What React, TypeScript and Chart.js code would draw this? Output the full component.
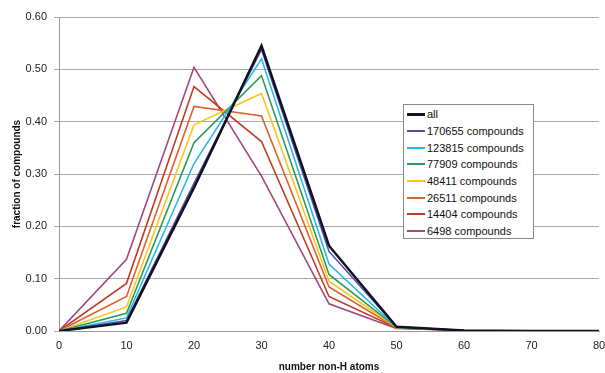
import React, { useEffect, useRef } from "react";
import { Chart, registerables } from "chart.js";

Chart.register(...registerables);

const xValues = [0, 10, 20, 30, 40, 50, 60, 70, 80];
const seriesLabels = [
  "all",
  "170655 compounds",
  "123815 compounds",
  "77909 compounds",
  "48411 compounds",
  "26511 compounds",
  "14404 compounds",
  "6498 compounds",
];
const seriesColors = [
  "#111122",
  "#4f4fa6",
  "#2ab8ec",
  "#2a9a5a",
  "#ffc41c",
  "#e0602c",
  "#c23a22",
  "#a2487c",
];
const seriesWidths = [2.5, 1.6, 1.6, 1.6, 1.6, 1.6, 1.6, 1.6];

const allData = [0, 0.016, 0.274, 0.545, 0.163, 0.008, 0.001, 0, 0];
const s170655 = [0, 0.02, 0.282, 0.538, 0.152, 0.008, 0.001, 0, 0];
const s123815 = [0, 0.025, 0.32, 0.52, 0.128, 0.007, 0.001, 0, 0];
const s77909 = [0, 0.034, 0.36, 0.488, 0.108, 0.007, 0.001, 0, 0];
const s48411 = [0, 0.046, 0.394, 0.454, 0.095, 0.007, 0.001, 0, 0];
const s26511 = [0, 0.066, 0.429, 0.411, 0.084, 0.006, 0.001, 0, 0];
const s14404 = [0, 0.091, 0.467, 0.362, 0.066, 0.006, 0.001, 0, 0];
const s6498 = [0, 0.137, 0.504, 0.296, 0.052, 0.005, 0.001, 0, 0];
const seriesValues = [allData, s170655, s123815, s77909, s48411, s26511, s14404, s6498];

const yTicks = [0, 0.1, 0.2, 0.3, 0.4, 0.5, 0.6];
const FONT = "'Liberation Sans', Arial, sans-serif";

export default function App() {
  const ref = useRef<HTMLCanvasElement>(null);
  useEffect(() => {
    document.body.style.margin = "0";
    const ctx = ref.current!.getContext("2d")!;
    const chart = new Chart(ctx, {
      type: "line",
      data: {
        datasets: seriesLabels.map((label, i) => ({
          label,
          data: xValues.map((x, j) => ({ x, y: seriesValues[i][j] })),
          borderColor: seriesColors[i],
          backgroundColor: seriesColors[i],
          borderWidth: seriesWidths[i],
          pointRadius: 0,
          tension: 0,
          fill: false,
        })),
      },
      options: {
        animation: false,
        responsive: false,
        layout: { padding: { top: 17, right: 6, left: 0, bottom: 0 } },
        plugins: { legend: { display: false }, tooltip: { enabled: false } },
        scales: {
          x: {
            type: "linear",
            min: 0,
            max: 80,
            ticks: {
              stepSize: 10,
              color: "#222",
              font: { family: FONT, size: 11 },
              padding: 4,
              maxRotation: 0,
            },
            grid: { display: false, drawTicks: true, tickLength: 4 },
            border: { display: true, color: "#999", width: 1 },
            title: {
              display: true,
              text: "number non-H atoms",
              color: "#111",
              font: { family: FONT, size: 10, weight: "bold" },
              padding: { top: 4, bottom: 0 },
            },
            afterFit: (s: any) => {
              s.height = 42;
              s.paddingRight = 0;
              s.paddingLeft = 0;
            },
          },
          y: {
            min: 0,
            max: 0.6,
            afterBuildTicks: (s: any) => {
              s.ticks = yTicks.map((v) => ({ value: v }));
            },
            ticks: {
              color: "#222",
              font: { family: FONT, size: 11 },
              padding: 7,
              callback: (v: any) => Number(v).toFixed(2),
            },
            grid: { color: "#a8a8a8", lineWidth: 1, tickLength: 5 },
            border: { display: true, color: "#999", width: 1 },
            title: {
              display: true,
              text: "fraction of compounds",
              color: "#111",
              font: { family: FONT, size: 10, weight: "bold" },
              padding: { top: 11, bottom: 0 },
            },
            afterFit: (s: any) => {
              s.width = 59;
            },
          },
        },
      },
    });
    return () => chart.destroy();
  }, []);

  return (
    <div style={{ position: "relative", width: 605, height: 373, background: "#fff", overflow: "hidden" }}>
      <canvas ref={ref} width={605} height={373} style={{ display: "block" }} />
      <div
        style={{
          position: "absolute",
          left: 403,
          top: 104,
          width: 131,
          height: 135,
          border: "1px solid #888",
          background: "#fff",
          boxSizing: "border-box",
          paddingTop: 1,
          fontFamily: FONT,
          fontSize: 11,
          color: "#111",
        }}
      >
        {seriesLabels.map((l, i) => (
          <div key={l} style={{ display: "flex", alignItems: "center", height: 16.7 }}>
            <span
              style={{
                display: "inline-block",
                width: 18,
                height: i === 0 ? 2.5 : 2,
                background: seriesColors[i],
                marginLeft: 3,
                marginRight: 2,
              }}
            />
            <span>{l}</span>
          </div>
        ))}
      </div>
    </div>
  );
}
